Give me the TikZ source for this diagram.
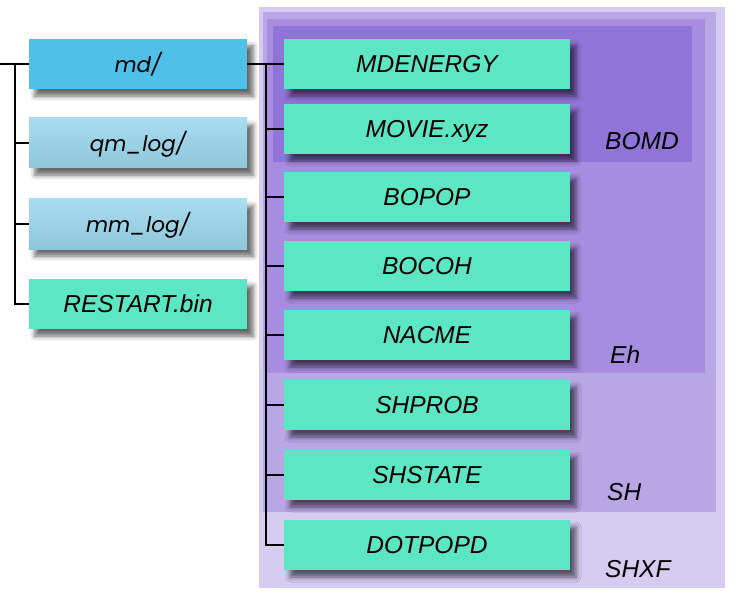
\documentclass[tikz,border=0pt]{standalone}
\usepackage{fontspec}
\setmainfont{Liberation Sans}
\newfontfamily\geofont{Poppins}
\usetikzlibrary{shadows.blur}
\definecolor{shxfc}{HTML}{D6CCF2}
\definecolor{shc}{HTML}{B8A6E5}
\definecolor{ehc}{HTML}{A68DDF}
\definecolor{bomdc}{HTML}{9174D8}
\definecolor{greenc}{HTML}{5CE6C4}
\definecolor{bluec}{HTML}{4FC1E9}
\definecolor{pbluetop}{HTML}{A9DDF1}
\definecolor{pbluebot}{HTML}{8FC6DA}
\tikzset{
  filebox/.style={rectangle, inner sep=0pt, text height=17.2bp, text depth=0bp,
    font=\fontsize{24.5bp}{28bp}\selectfont\itshape,
    blur shadow={shadow xshift=6bp, shadow yshift=-7bp, shadow blur radius=5bp, shadow opacity=60}},
  rbox/.style={filebox, fill=greenc, minimum width=286bp, minimum height=50bp},
  lbox/.style={filebox, minimum width=218bp, minimum height=50bp},
  geobox/.style={lbox, font=\geofont\fontsize{21.5bp}{28bp}\selectfont\itshape},
  regionlabel/.style={anchor=base west, inner sep=0pt, font=\fontsize{24.5bp}{28bp}\selectfont\itshape},
  tree/.style={line width=1.8bp, black}
}
\begin{document}
\begin{tikzpicture}[x=1bp, y=-1bp]
\useasboundingbox (0,0) rectangle (732,591);
% nested region backgrounds
\fill[shxfc] (259,7) rectangle (725,588);
\fill[shc] (263,12) rectangle (716,512);
\fill[ehc] (267,19) rectangle (705,373);
\fill[bomdc] (273,26) rectangle (692,162);
\node[regionlabel] (lbomd) at (605,150) {BOMD};
\node[regionlabel] (leh) at (610,363) {Eh};
\node[regionlabel] (lsh) at (607,500) {SH};
\node[regionlabel] (lshxf) at (605,577) {SHXF};
% left boxes
\node[geobox, fill=bluec] (md) at (138,64) {md/};
\node[geobox, top color=pbluetop, bottom color=pbluebot] (qm) at (138,143) {qm\_log/};
\node[geobox, top color=pbluetop, bottom color=pbluebot] (mm) at (138,224) {mm\_log/};
\node[lbox, fill=greenc] (restart) at (138,304) {RESTART.bin};
% right boxes
\node[rbox] (mdenergy) at (427,64) {MDENERGY};
\node[rbox] (movie) at (427,129) {MOVIE.xyz};
\node[rbox] (bopop) at (427,197) {BOPOP};
\node[rbox] (bocoh) at (427,266) {BOCOH};
\node[rbox] (nacme) at (427,335) {NACME};
\node[rbox] (shprob) at (427,405) {SHPROB};
\node[rbox] (shstate) at (427,475) {SHSTATE};
\node[rbox] (dotpopd) at (427,545) {DOTPOPD};
% left tree
\coordinate (lin) at (0,64);
\coordinate (ltrunk) at (15,64);
\draw[tree] (lin) -- (md.west);
\draw[tree] (ltrunk) |- (restart.west);
\draw[tree] (ltrunk |- qm.west) -- (qm.west);
\draw[tree] (ltrunk |- mm.west) -- (mm.west);
% right tree
\coordinate (rtrunk) at (266,64);
\draw[tree] (md.east) -- (mdenergy.west);
\draw[tree] (rtrunk) |- (dotpopd.west);
\foreach \n in {movie,bopop,bocoh,nacme,shprob,shstate}
  \draw[tree] (rtrunk |- \n.west) -- (\n.west);
\end{tikzpicture}
\end{document}
